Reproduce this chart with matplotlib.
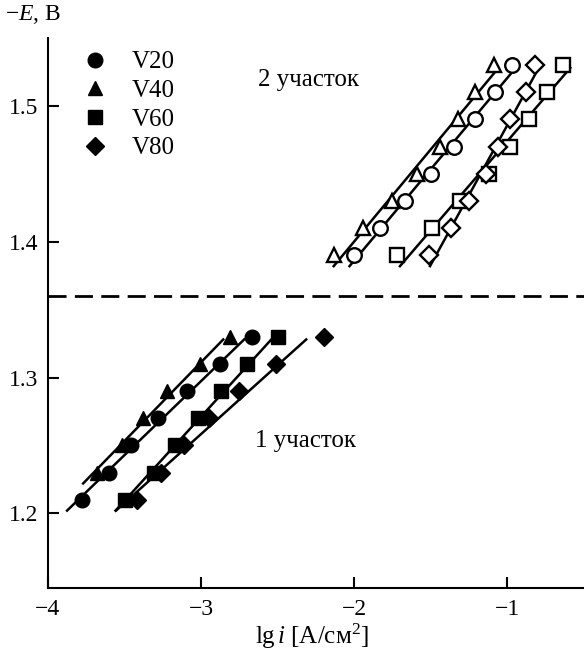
import matplotlib
matplotlib.use("Agg")
import numpy as np
import matplotlib.pyplot as plt

plt.rcParams['font.family'] = ['Liberation Serif', 'DejaVu Serif']
plt.rcParams['mathtext.fontset'] = 'custom'
plt.rcParams['mathtext.rm'] = 'Liberation Serif'
plt.rcParams['mathtext.it'] = 'Liberation Serif:italic'

# участок 1 (закрашенные маркеры)
y1 = [1.21, 1.23, 1.25, 1.27, 1.29, 1.31, 1.33]
v20_1 = [-3.78, -3.60, -3.46, -3.28, -3.09, -2.88, -2.67]
y1_v40 = [1.23, 1.25, 1.27, 1.29, 1.31, 1.33]
v40_1 = [-3.68, -3.52, -3.38, -3.22, -3.01, -2.81]
v60_1 = [-3.50, -3.31, -3.17, -3.02, -2.87, -2.70, -2.50]
v80_1 = [-3.42, -3.26, -3.11, -2.95, -2.75, -2.51, -2.20]

# участок 2 (пустые маркеры)
y2 = [1.39, 1.41, 1.43, 1.45, 1.47, 1.49, 1.51, 1.53]
v20_2 = [-2.00, -1.83, -1.67, -1.50, -1.35, -1.21, -1.08, -0.97]
v40_2 = [-2.13, -1.94, -1.755, -1.59, -1.44, -1.32, -1.21, -1.09]
v60_2 = [-1.72, -1.49, -1.31, -1.12, -0.98, -0.86, -0.74, -0.64]
v80_2 = [-1.51, -1.37, -1.25, -1.14, -1.06, -0.98, -0.88, -0.82]

labels = ["V20", "V40", "V60", "V80"]
markers = ["o", "^", "s", "D"]
msizes = [10.5, 10.5, 10, 9.5]

fig = plt.figure(figsize=(5.84, 6.52), dpi=100)
ax = fig.add_axes([48 / 584, 64 / 652, 1 - 48 / 584, 550 / 652])


def draw(xs, ys, m, ms, filled, label=None):
    # линейная аппроксимация серии
    xs = np.array(xs)
    ys = np.array(ys)
    a, b = np.polyfit(ys, xs, 1)
    yy = np.array([ys.min() - 0.008, ys.max() - 0.002])
    ax.plot(a * yy + b, yy, color="black", lw=1.8, zorder=2)
    if filled:
        ax.plot(xs, ys, m, ms=ms, color="black", mec="black", zorder=3, label=label)
    else:
        ax.plot(xs, ys, m, ms=ms, mfc="white", mec="black", mew=1.7, zorder=3)


set1 = [(v20_1, y1), (v40_1, y1_v40), (v60_1, y1), (v80_1, y1)]
set2 = [v20_2, v40_2, v60_2, v80_2]
for i in range(4):
    draw(set1[i][0], set1[i][1], markers[i], msizes[i], True, labels[i])
    draw(set2[i], y2, markers[i], msizes[i], False)

ax.axhline(1.36, color="black", lw=2, ls=(0, (6.5, 3)))

ax.set_xlim(-4, -0.5)
ax.set_ylim(1.145, 1.55)
ax.set_xticks([-4, -3, -2, -1])
ax.set_xticklabels(["\u22124", "\u22123", "\u22122", "\u22121"])
ax.set_yticks([1.2, 1.3, 1.4, 1.5])
ax.set_yticklabels(["1.2", "1.3", "1.4", "1.5"])
ax.tick_params(direction="in", length=8, width=1.5, labelsize=17)
ax.tick_params(axis="x", pad=8)
ax.tick_params(axis="y", pad=7)
ax.spines["top"].set_visible(False)
ax.spines["right"].set_visible(False)
ax.spines["left"].set_linewidth(1.5)
ax.spines["bottom"].set_linewidth(1.5)

ax.text(-2.63, 1.519, "2 участок", fontsize=18, va="center")
ax.text(-2.65, 1.253, "1 участок", fontsize=18, va="center")

ax.legend(loc="upper left", frameon=False, fontsize=18, handletextpad=1.0,
          labelspacing=0.25, borderaxespad=0.0, handlelength=1.0,
          bbox_to_anchor=(0.045, 0.995))

fig.text(0.008, 0.995, "\u2212$E$, В", fontsize=17, va="top", ha="left")
fig.text(0.535, 0.013, "lg$\\,i$ [A/см$^{2}$]", fontsize=18, ha="center", va="baseline")

fig.savefig("out.png", dpi=100)
